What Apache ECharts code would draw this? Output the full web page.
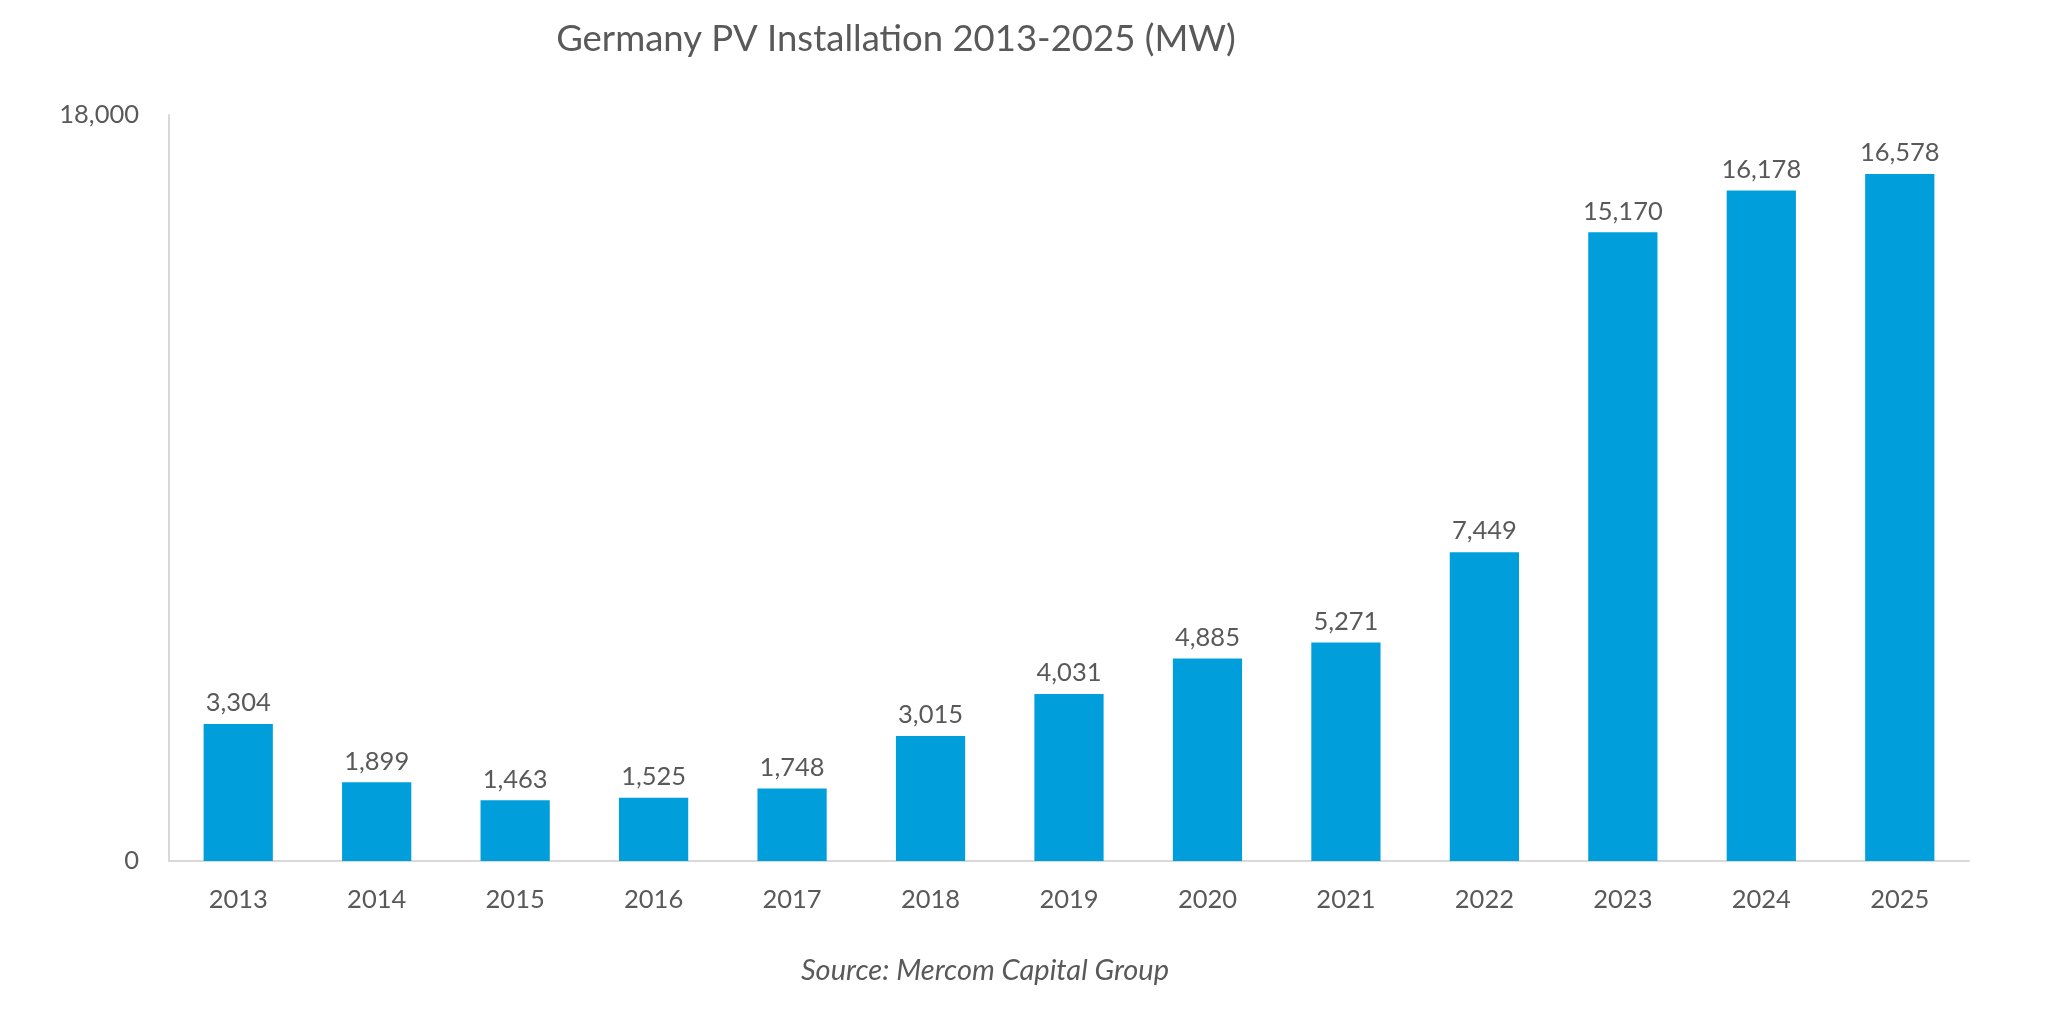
<!DOCTYPE html>
<html>
<head>
<meta charset="utf-8">
<script src="https://cdn.jsdelivr.net/npm/echarts@6/dist/echarts.min.js"></script>
<style>
html,body{margin:0;padding:0;background:#fff;}
#chart{width:2068px;height:1015px;}
</style>
</head>
<body>
<div id="chart"></div>
<script>
const titleText = 'Germany PV Installation 2013-2025 (MW)';
const sourceText = 'Source: Mercom Capital Group';
const years = ['2013','2014','2015','2016','2017','2018','2019','2020','2021','2022','2023','2024','2025'];
const installedMW = [3304, 1899, 1463, 1525, 1748, 3015, 4031, 4885, 5271, 7449, 15170, 16178, 16578];
const yTicks = [0, 18000];

const FONT = 'Lato';
const TXT = '#595959';
const fmt = v => v.toLocaleString('en-US');

const chart = echarts.init(document.getElementById('chart'), null, {renderer: 'canvas'});
chart.setOption({
  animation: false,
  backgroundColor: '#ffffff',
  title: [
    {
      text: titleText,
      left: 891, top: 16, textAlign: 'center',
      textStyle: {fontFamily: FONT, fontSize: 36.5, fontWeight: 'normal', color: TXT}
    },
    {
      text: sourceText,
      left: 980, top: 951, textAlign: 'center',
      textStyle: {fontFamily: FONT, fontSize: 29, fontStyle: 'italic', fontWeight: 'normal', color: TXT}
    }
  ],
  grid: {left: 169, right: 99, top: 115, bottom: 154, containLabel: false},
  xAxis: {
    type: 'category',
    data: years,
    axisLine: {show: true, lineStyle: {color: '#D9D9D9', width: 2}},
    axisTick: {show: false},
    axisLabel: {margin: 26, fontFamily: FONT, fontSize: 25.5, color: TXT}
  },
  yAxis: {
    type: 'value',
    min: yTicks[0],
    max: yTicks[yTicks.length - 1],
    interval: yTicks[1] - yTicks[0],
    splitLine: {show: false},
    axisLine: {show: true, lineStyle: {color: '#D9D9D9', width: 2}},
    axisTick: {show: false},
    axisLabel: {margin: 30, fontFamily: FONT, fontSize: 25.5, color: TXT, formatter: v => fmt(v)}
  },
  series: [{
    type: 'bar',
    data: installedMW,
    barCategoryGap: '50%',
    itemStyle: {color: '#009FDB'},
    label: {
      show: true, position: 'top', distance: 8,
      fontFamily: FONT, fontSize: 25.5, color: TXT,
      formatter: p => fmt(p.value)
    }
  }]
});
</script>
</body>
</html>
